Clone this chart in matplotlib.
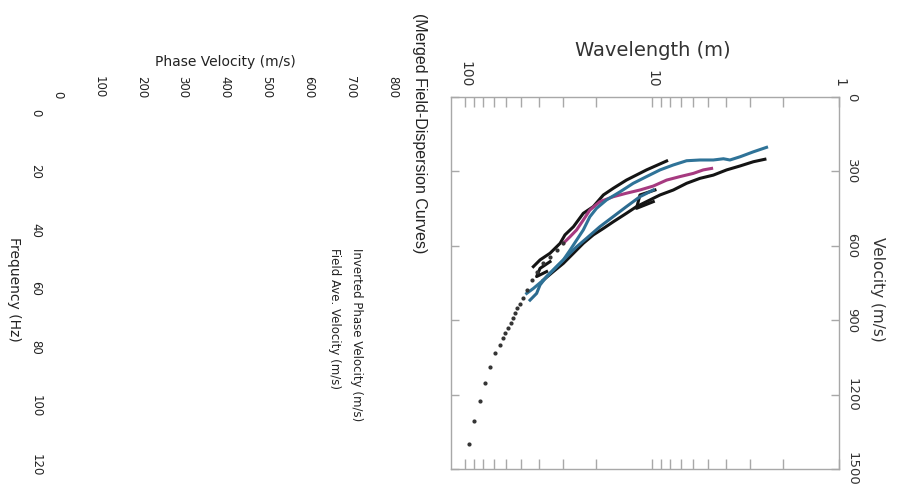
import numpy as np
import matplotlib.pyplot as plt
from matplotlib.ticker import FixedLocator, NullFormatter

W, H = 898, 497

# inverted (model) phase velocity, dotted
dots_wl = [94.8, 89.2, 83.2, 78.2, 73.5, 69.1, 65.0, 62.9, 61.1, 58.6, 57.0, 55.6,
           54.0, 52.5, 50.8, 48.8, 46.4, 44.0, 41.4, 38.1, 35.1, 32.3, 29.8]
dots_v = [1400, 1305, 1226, 1154, 1090, 1034, 998, 973, 953, 933, 913, 892,
          872, 852, 835, 812, 778, 738, 704, 670, 644, 617, 590]

# field dispersion curves (wavelength m, velocity m/s)
black_a_wl = [8.35, 10.7, 13.7, 16.1, 18.2, 20.6, 23.3, 26.3, 29.2, 31.0, 35.1, 39.7, 43.1]
black_a_v = [258, 294, 335, 368, 395, 442, 469, 523, 556, 590, 630, 657, 684]

black_b_wl = [2.49, 2.87, 3.38, 3.99, 4.70, 5.54, 6.53, 7.69, 9.06, 10.7, 12.1, 13.7,
              16.1, 18.2, 20.6, 23.3, 26.3, 29.8, 33.7, 38.1]
black_b_v = [251, 261, 278, 294, 315, 328, 348, 375, 395, 422, 442, 469,
             503, 530, 556, 590, 630, 671, 704, 738]

black_c_wl = [9.64, 11.6, 12.1, 9.84]
black_c_v = [375, 395, 449, 422]

black_d_wl = [35.1, 39.7, 41.4, 36.6]
black_d_v = [664, 691, 724, 704]

blue_a_wl = [2.44, 2.87, 3.38, 3.83, 4.15, 4.70, 5.54, 6.53, 7.69, 9.06, 10.7, 12.6,
             14.8, 17.5, 19.8, 21.5, 23.3, 25.3, 27.4, 29.8, 33.7, 38.1, 43.1, 46.8]
blue_a_v = [203, 221, 241, 254, 249, 254, 254, 257, 274, 294, 321, 348,
            382, 415, 449, 483, 536, 577, 617, 657, 698, 738, 772, 792]

blue_b_wl = [9.84, 11.6, 13.7, 16.1, 19.0, 22.4, 25.3, 28.6, 32.4, 36.6, 39.7, 41.4, 44.9]
blue_b_v = [375, 402, 442, 482, 523, 570, 604, 644, 684, 724, 758, 792, 819]

pink_wl = [4.80, 5.32, 6.01, 7.09, 8.35, 9.84, 11.6, 13.7, 16.1, 19.0, 21.5, 23.3,
           25.3, 27.4, 29.8]
pink_v = [288, 294, 308, 321, 335, 359, 375, 388, 402, 422, 456, 496, 536, 563, 590]

vel_ticks = [0, 300, 600, 900, 1200, 1500]
wl_ticks = [1, 10, 100]
wl_minor = [2, 3, 4, 5, 6, 7, 8, 9, 20, 30, 40, 50, 60, 70, 80, 90]

pv_ticks = [0, 100, 200, 300, 400, 500, 600, 700, 800]
freq_ticks = [0, 20, 40, 60, 80, 100, 120]


def fx(px):
    return px / W


def fy(py):
    return 1 - py / H


fig = plt.figure(figsize=(W / 100, H / 100), dpi=100)
txt = '#222222'

# left: empty phase velocity / frequency panel (drawn sideways)
ax1 = fig.add_axes([fx(57.5), fy(465), fx(392.5) - fx(57.5), fy(112.5) - fy(465)])
ax1.set_xlim(0, 800)
ax1.set_ylim(120, 0)
for s in ax1.spines.values():
    s.set_visible(False)
ax1.patch.set_visible(False)
ax1.xaxis.tick_top()
ax1.set_xticks(pv_ticks)
ax1.set_yticks(freq_ticks)
ax1.tick_params(axis='x', length=0, pad=10, labelsize=8.5, colors=txt, labelrotation=270)
ax1.tick_params(axis='y', length=0, pad=11, labelsize=8.5, colors=txt, labelrotation=270)
for lab in ax1.get_yticklabels():
    lab.set_va('center')

fig.text(fx(225), fy(62), 'Phase Velocity (m/s)', fontsize=10, color=txt,
         ha='center', va='center')
fig.text(fx(14), fy(289), 'Frequency (Hz)', fontsize=10, color=txt,
         ha='center', va='center', rotation=270)
fig.text(fx(419), fy(133), '(Merged Field-Dispersion Curves)', fontsize=11.5,
         family='Liberation Sans', color=txt, ha='center', va='center', rotation=270)
fig.text(fx(356), fy(248), 'Inverted Phase Velocity (m/s)', fontsize=8.5, color=txt,
         ha='center', va='top', rotation=270)
fig.text(fx(334), fy(248), 'Field Ave. Velocity (m/s)', fontsize=8.5, color=txt,
         ha='center', va='top', rotation=270)

# right: scanned wavelength / velocity plot
ax2 = fig.add_axes([fx(451), fy(469), fx(839) - fx(451), fy(97) - fy(469)])
ax2.set_xscale('log')
ax2.set_xlim(118.8, 1)
ax2.set_ylim(1500, 0)

lw = 2.2
ax2.plot(black_a_wl, black_a_v, color='#141414', lw=lw)
ax2.plot(black_b_wl, black_b_v, color='#141414', lw=lw)
ax2.plot(black_c_wl, black_c_v, color='#141414', lw=lw)
ax2.plot(black_d_wl, black_d_v, color='#141414', lw=lw)
ax2.plot(blue_b_wl, blue_b_v, color='#2c6b90', lw=lw)
ax2.plot(pink_wl, pink_v, color='#a63a80', lw=lw)
ax2.plot(blue_a_wl, blue_a_v, color='#2f7398', lw=lw)
ax2.plot(dots_wl, dots_v, ls='none', marker='o', ms=2.0, color='#333333')

grey = '#a8a8a8'
for s in ax2.spines.values():
    s.set_color(grey)
    s.set_linewidth(1.0)

ax2.xaxis.set_major_locator(FixedLocator(wl_ticks))
ax2.xaxis.set_minor_locator(FixedLocator(wl_minor))
ax2.xaxis.set_minor_formatter(NullFormatter())
ax2.set_xticklabels([str(t) for t in wl_ticks])
ax2.set_yticks(vel_ticks)
ax2.tick_params(axis='both', which='both', direction='in', color=grey, width=1,
                top=True, bottom=True, left=True, right=True,
                labeltop=True, labelbottom=False, labelleft=False, labelright=True)
ax2.tick_params(axis='x', which='both', length=7)
ax2.tick_params(axis='x', which='major', pad=7, labelsize=10, labelcolor='#333333',
                labelrotation=270)
ax2.tick_params(axis='y', length=6, pad=4.5, labelsize=9.5, labelcolor='#333333',
                labelrotation=270)
for lab in ax2.get_yticklabels():
    lab.set_va('center')

fig.text(fx(653), fy(50), 'Wavelength (m)', fontsize=14, color='#333333',
         ha='center', va='center')
fig.text(fx(877), fy(289), 'Velocity (m/s)', fontsize=11, color='#333333',
         ha='center', va='center', rotation=270)

fig.savefig('out.png', dpi=100)
